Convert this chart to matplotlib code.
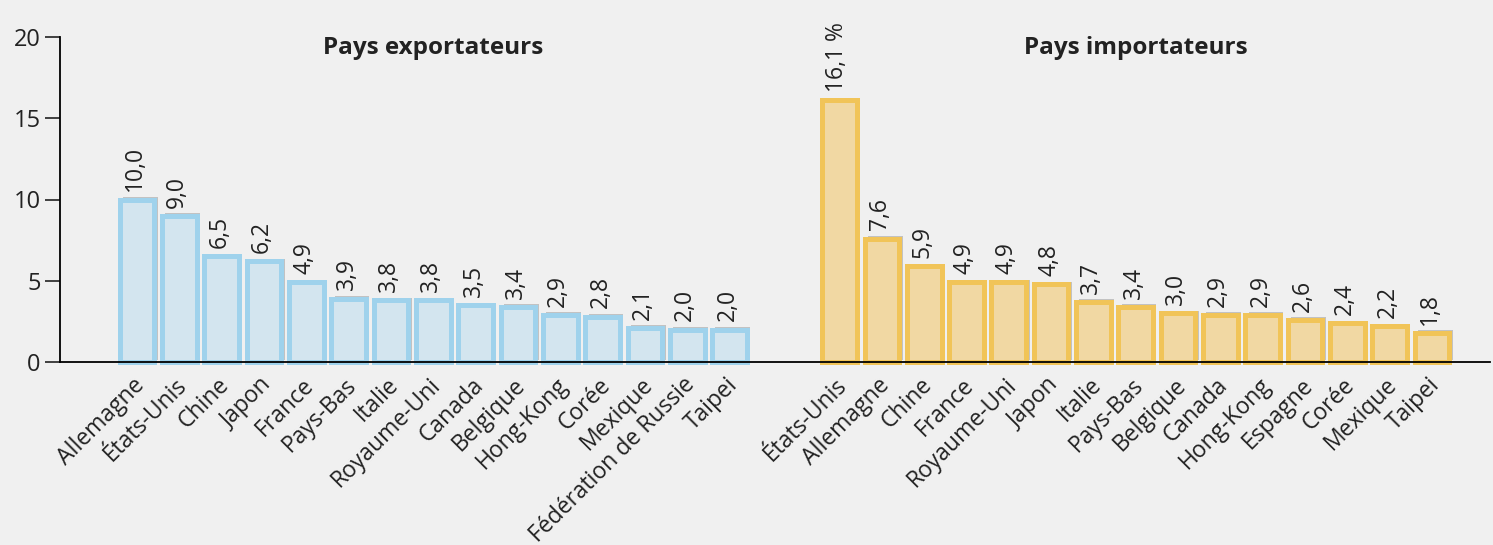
import numpy as np
import matplotlib.pyplot as plt
from matplotlib import patheffects as pe

plt.rcParams['font.family'] = ['Open Sans', 'DejaVu Sans']

# données (% du commerce mondial)
pays_export = ['Allemagne', 'États-Unis', 'Chine', 'Japon', 'France', 'Pays-Bas', 'Italie',
               'Royaume-Uni', 'Canada', 'Belgique', 'Hong-Kong', 'Corée', 'Mexique',
               'Fédération de Russie', 'Taipei']
val_export = [10.0, 9.0, 6.5, 6.2, 4.9, 3.9, 3.8, 3.8, 3.5, 3.4, 2.9, 2.8, 2.1, 2.0, 2.0]

pays_import = ['États-Unis', 'Allemagne', 'Chine', 'France', 'Royaume-Uni', 'Japon', 'Italie',
               'Pays-Bas', 'Belgique', 'Canada', 'Hong-Kong', 'Espagne', 'Corée', 'Mexique',
               'Taipei']
val_import = [16.1, 7.6, 5.9, 4.9, 4.9, 4.8, 3.7, 3.4, 3.0, 2.9, 2.9, 2.6, 2.4, 2.2, 1.8]

fig = plt.figure(figsize=(14.93, 5.45), dpi=100, facecolor='#f0f0f0')
ax = fig.add_axes([60 / 1493, (545 - 362) / 545, 1430 / 1493, 325 / 545])
ax.set_facecolor('#f0f0f0')

x_exp = np.arange(len(val_export))
x_imp = np.arange(len(val_import)) + len(val_export) + 1.6

ombre = [pe.SimplePatchShadow(offset=(2.4, 1.8), shadow_rgbFace='#c2c2c2', alpha=1.0), pe.Normal()]

ax.bar(x_exp, val_export, width=0.82, color='#d3e5ef', edgecolor='#9fd2ec', linewidth=3.6,
       clip_on=False, path_effects=ombre, zorder=2)
ax.bar(x_imp, val_import, width=0.82, color='#f1d8a3', edgecolor='#f1c458', linewidth=3.6,
       clip_on=False, path_effects=ombre, zorder=2)

def fmt(v):
    return f'{v:.1f}'.replace('.', ',')

for x, v in zip(x_exp, val_export):
    ax.text(x - 0.05, v + 0.5, fmt(v), rotation=90, ha='center', va='bottom', fontsize=16.5,
            color='#222222')
for i, (x, v) in enumerate(zip(x_imp, val_import)):
    txt = fmt(v) + (' %' if i == 0 else '')
    ax.text(x - 0.05, v + 0.5, txt, rotation=90, ha='center', va='bottom', fontsize=16.5,
            color='#222222')

ax.text(x_exp.mean(), 19.3, 'Pays exportateurs', ha='center', va='center',
        fontsize=17.5, fontweight='bold', color='#222222')
ax.text(x_imp.mean(), 19.3, 'Pays importateurs', ha='center', va='center',
        fontsize=17.5, fontweight='bold', color='#222222')

ax.set_xlim(-1.82, x_imp[-1] + 1.37)
ax.set_ylim(0, 20)
ax.set_yticks([0, 5, 10, 15, 20])
ax.tick_params(axis='y', length=11, width=1.2, labelsize=17, pad=3, colors='#222222')

ax.set_xticks(np.concatenate([x_exp, x_imp]) - 0.1)
ax.set_xticklabels(pays_export + pays_import, rotation=45, ha='right', rotation_mode='anchor',
                   fontsize=16.5, color='#222222')
ax.tick_params(axis='x', length=0, pad=8)

for s in ['top', 'right']:
    ax.spines[s].set_visible(False)
ax.spines['left'].set_linewidth(1.3)
ax.spines['bottom'].set_linewidth(1.3)
ax.spines['left'].set_zorder(5)
ax.spines['bottom'].set_zorder(5)

fig.savefig('out.png', dpi=100, facecolor=fig.get_facecolor())
